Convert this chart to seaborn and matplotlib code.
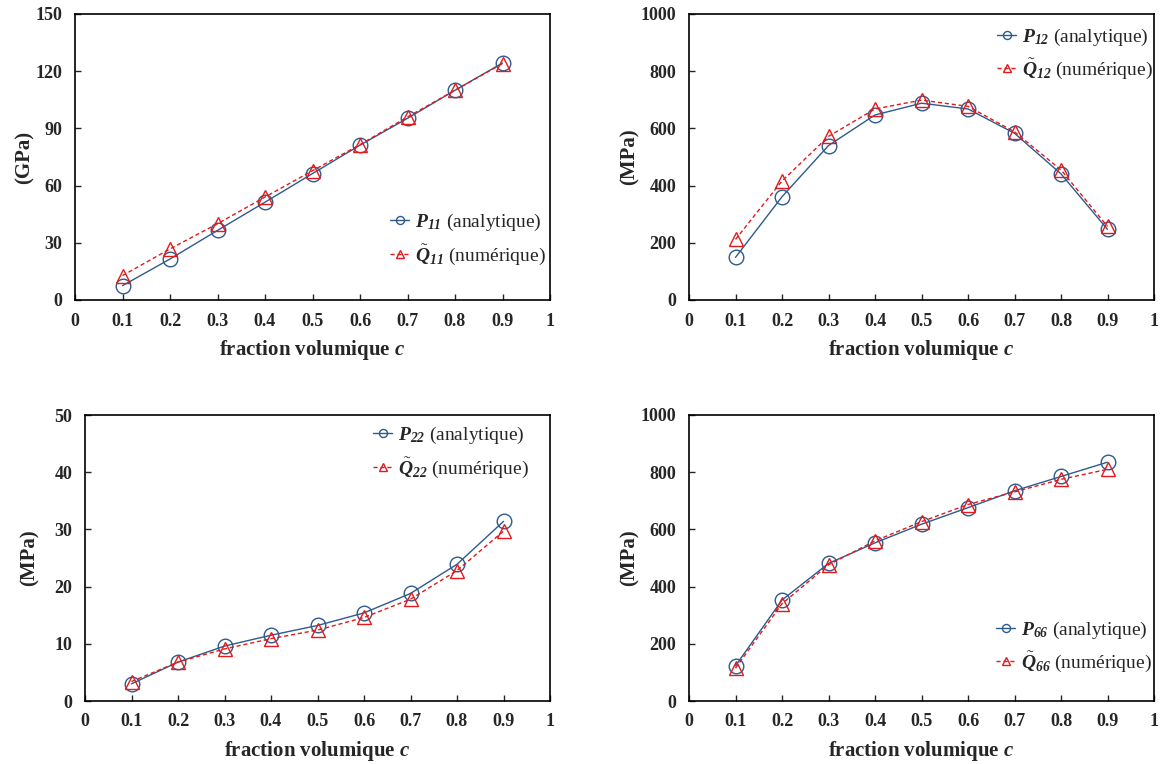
import matplotlib
matplotlib.use("Agg")
import matplotlib.pyplot as plt
import numpy as np
import pandas as pd
import seaborn as sns

# volume fraction
c = [0.1, 0.2, 0.3, 0.4, 0.5, 0.6, 0.7, 0.8, 0.9]

# analytic (P) and numerical (Q tilde) values
p11 = [7.5, 21.5, 36.5, 51.3, 66.3, 81.2, 95.3, 110.0, 124.3]
q11 = [12.8, 26.8, 40.0, 54.0, 67.8, 81.5, 96.0, 110.0, 124.0]

p12 = [149, 361, 540, 647, 688, 668, 583, 441, 247]
q12 = [212, 416, 572, 668, 699, 677, 588, 455, 257]

p22 = [3.0, 6.8, 9.6, 11.5, 13.2, 15.4, 18.8, 23.9, 31.4]
q22 = [3.4, 6.8, 9.1, 10.9, 12.4, 14.6, 17.8, 22.8, 29.7]

p66 = [123, 353, 481, 553, 618, 676, 735, 785, 835]
q66 = [115, 340, 476, 560, 627, 687, 731, 775, 810]

x_ticks = [0, 0.1, 0.2, 0.3, 0.4, 0.5, 0.6, 0.7, 0.8, 0.9, 1]
x_ticklabels = ["0", "0.1", "0.2", "0.3", "0.4", "0.5", "0.6", "0.7", "0.8", "0.9", "1"]

BLUE = "#2D5B8C"
RED = "#E3191B"

sns.set_style("ticks")
plt.rcParams["font.family"] = ["Liberation Serif", "DejaVu Serif"]
plt.rcParams["mathtext.fontset"] = "custom"
plt.rcParams["mathtext.rm"] = "Liberation Serif"
plt.rcParams["mathtext.it"] = "Liberation Serif:italic"
plt.rcParams["mathtext.bf"] = "Liberation Serif:bold"
plt.rcParams["mathtext.bfit"] = "Liberation Serif:bold:italic"

W, H = 1161, 764
fig = plt.figure(figsize=(W / 100, H / 100), dpi=100)


def px_axes(left, top, right, bottom):
    return fig.add_axes([left / W, 1 - bottom / H, (right - left) / W, (bottom - top) / H])


panels = [
    # (box px, p, q, subscript, ylim, yticks, ylabel, ylabel pad, legend anchor in axes fraction)
    ((75, 14, 550, 300), p11, q11, "11", (0, 150), np.arange(0, 151, 30), "(GPa)", 1, (0.663, 0.212)),
    ((689, 14, 1154, 300), p12, q12, "12", (0, 1000), np.arange(0, 1001, 200), "(MPa)", 1, (0.662, 0.860)),
    ((85, 415, 550, 701), p22, q22, "22", (0, 50), np.arange(0, 51, 10), "(MPa)", 11, (0.619, 0.869)),
    ((689, 415, 1154, 701), p66, q66, "66", (0, 1000), np.arange(0, 1001, 200), "(MPa)", 1, (0.660, 0.189)),
]

for box, p, q, sub, ylim, yticks, ylabel, ypad, anchor in panels:
    ax = px_axes(*box)
    df = pd.DataFrame({"c": c, "P": p, "Q": q})
    sns.lineplot(data=df, x="c", y="P", ax=ax, color=BLUE, lw=1.0,
                 marker="o", markersize=10.5, markerfacecolor="none",
                 markeredgecolor=BLUE, markeredgewidth=1.0,
                 label=rf"$\mathbfit{{P}}_{{\mathbfit{{{sub}}}}}$ (analytique)")
    sns.lineplot(data=df, x="c", y="Q", ax=ax, color=RED, lw=1.0, linestyle=(0, (3, 2)),
                 marker="^", markersize=10.5, markerfacecolor="none",
                 markeredgecolor=RED, markeredgewidth=1.0,
                 label=rf"$\tilde{{\mathbfit{{Q}}}}_{{\mathbfit{{{sub}}}}}$ (numérique)")
    ax.set_xlim(0, 1)
    ax.set_ylim(*ylim)
    ax.set_xticks(x_ticks)
    ax.set_xticklabels(x_ticklabels)
    ax.set_yticks(yticks)
    ax.tick_params(direction="in", length=4, width=1, labelsize=13, pad=9)
    for lab in ax.get_xticklabels() + ax.get_yticklabels():
        lab.set_fontweight("bold")
    for sp in ax.spines.values():
        sp.set_visible(True)
        sp.set_linewidth(1.2)
        sp.set_color("black")
    ax.set_ylabel(ylabel, fontsize=15, fontweight="bold", labelpad=ypad)
    ax.set_xlabel(r"fraction volumique $\mathbfit{c}$", fontsize=15,
                  fontweight="bold", labelpad=6)
    ax.legend(loc="center left", bbox_to_anchor=anchor, frameon=False, fontsize=14,
              markerscale=0.55, borderpad=0, borderaxespad=0, handlelength=1.0,
              handletextpad=0.3, labelspacing=0.45)

fig.savefig("out.png", dpi=100)
